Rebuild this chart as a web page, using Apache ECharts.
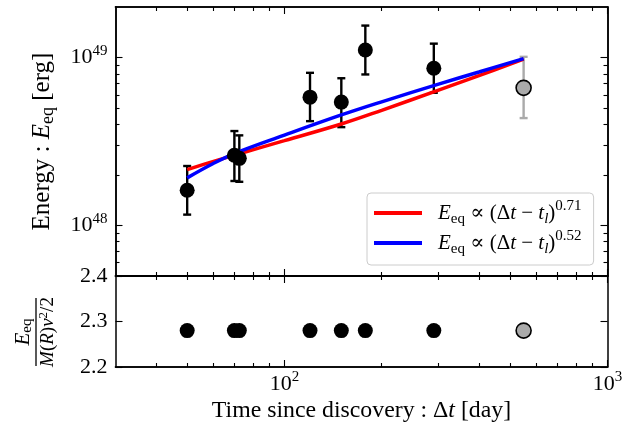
<!DOCTYPE html>
<html>
<head>
<meta charset="utf-8">
<script src="https://cdn.jsdelivr.net/npm/echarts@6/dist/echarts.min.js"></script>
<style>html,body{margin:0;padding:0;background:#fff;}#c{width:634px;height:435px;}</style>
</head>
<body>
<div id="c"></div>
<script>
// ---- data ----
const timeDays   = [50, 70, 72.5, 120, 150, 178, 290];
const energy     = [1.62e48, 2.62e48, 2.51e48, 5.81e48, 5.43e48, 1.11e49, 8.64e48];
const energyLow  = [1.16e48, 1.84e48, 1.82e48, 4.18e48, 3.85e48, 7.93e48, 6.17e48];
const energyHigh = [2.26e48, 3.65e48, 3.44e48, 8.11e48, 7.53e48, 1.55e49, 1.21e49];
const grayTime = [550];
const grayEnergy = [6.6e48];
const grayLow = [4.36e48];
const grayHigh = [1.01e49];
const ratio = [2.28, 2.28, 2.28, 2.28, 2.28, 2.28, 2.28];
const grayRatio = [2.28];

const fitTime   = [50, 60, 70, 100, 150, 200, 300, 400, 550];
const fitRed    = [2.15e48, 2.40e48, 2.62e48, 3.20e48, 4.02e48, 4.85e48, 6.40e48, 7.80e48, 9.80e48];
const fitBlue   = [1.92e48, 2.33e48, 2.68e48, 3.45e48, 4.55e48, 5.45e48, 6.95e48, 8.20e48, 9.86e48];

const xMajorTicks = [100, 1000];
const xMinorTicks = [40, 50, 60, 70, 80, 90, 200, 300, 400, 500, 600, 700, 800, 900];
const yMajorTicks = [1e48, 1e49];
const yMinorTicks = [6e47, 7e47, 8e47, 9e47, 2e48, 3e48, 4e48, 5e48, 6e48, 7e48, 8e48, 9e48];
const ratioTicks = [2.2, 2.3, 2.4];

// ---- styling ----
const SERIF = "'Liberation Serif', 'DejaVu Serif', serif";
function rich(F, L) {
  const s = Math.round(F * 0.7);
  return {
    n:   {fontFamily: SERIF, fontSize: F, lineHeight: L, color: '#000'},
    i:   {fontFamily: SERIF, fontSize: F, lineHeight: L, fontStyle: 'italic', color: '#000'},
    e0:  {fontFamily: SERIF, fontSize: F, lineHeight: L, fontStyle: 'italic', color: '#000', padding: [0, 0, 0, 11]},
    sub: {fontFamily: SERIF, fontSize: s, lineHeight: s, verticalAlign: 'bottom', color: '#000'},
    subi:{fontFamily: SERIF, fontSize: s, lineHeight: s, verticalAlign: 'bottom', fontStyle: 'italic', color: '#000'},
    sup: {fontFamily: SERIF, fontSize: s, lineHeight: s, verticalAlign: 'top', color: '#000'}
  };
}
const pair = (xs, ys) => xs.map((x, k) => [x, ys[k]]);

const GL = 115.5, GW = 492;
const frame = {show: true, onZero: false, lineStyle: {color: '#000', width: 1.5}};
function tickAx(grid, pos, type, min, max, vals, len, extra) {
  const ax = Object.assign({
    type: type, gridIndex: grid, position: pos, min: min, max: max,
    axisLine: frame, splitLine: {show: false},
    axisTick: {show: true, inside: true, length: len, customValues: vals, lineStyle: {color: '#000', width: 1.1}},
    axisLabel: {show: false}
  }, extra || {});
  if (type === 'log') ax.logBase = 10;
  return ax;
}
const powLabel = v => '{b|10}{s|' + Math.round(Math.log10(v)) + '}';
const powRich = {
  b: {fontFamily: SERIF, fontSize: 22, lineHeight: 28, color: '#000'},
  s: {fontFamily: SERIF, fontSize: 15, lineHeight: 15, verticalAlign: 'top', color: '#000'}
};

const xAxes = [
  tickAx(0, 'bottom', 'log', 30, 1000, xMajorTicks, 7),
  tickAx(0, 'bottom', 'log', 30, 1000, xMinorTicks, 4),
  tickAx(0, 'top', 'log', 30, 1000, xMajorTicks, 7),
  tickAx(0, 'top', 'log', 30, 1000, xMinorTicks, 4),
  tickAx(1, 'bottom', 'log', 30, 1000, xMajorTicks, 7, {
    axisLabel: {show: true, customValues: xMajorTicks, margin: 3, formatter: powLabel, rich: powRich},
    name: '{n|Time since discovery : Δ}{i|t}{n| [day]}', nameLocation: 'middle', nameGap: 30,
    nameTextStyle: {rich: rich(23.8, 28)}
  }),
  tickAx(1, 'bottom', 'log', 30, 1000, xMinorTicks, 4),
  tickAx(1, 'top', 'log', 30, 1000, xMajorTicks, 7),
  tickAx(1, 'top', 'log', 30, 1000, xMinorTicks, 4)
];
const yAxes = [
  tickAx(0, 'left', 'log', 5e47, 2e49, yMajorTicks, 7, {
    axisLabel: {show: true, customValues: yMajorTicks, margin: 8, formatter: powLabel, rich: powRich},
    name: '{n|Energy : }{i|E}{sub|eq}{n| [erg]}', nameLocation: 'middle', nameGap: 58, nameRotate: 90,
    nameTextStyle: {rich: rich(25, 30)}
  }),
  tickAx(0, 'left', 'log', 5e47, 2e49, yMinorTicks, 4),
  tickAx(0, 'right', 'log', 5e47, 2e49, yMajorTicks, 7),
  tickAx(0, 'right', 'log', 5e47, 2e49, yMinorTicks, 4),
  tickAx(1, 'left', 'value', 2.2, 2.4, ratioTicks, 7, {
    interval: 0.1,
    axisLabel: {show: true, customValues: ratioTicks, margin: 8, formatter: v => v.toFixed(1),
      fontFamily: SERIF, fontSize: 22, color: '#000'}
  }),
  tickAx(1, 'right', 'value', 2.2, 2.4, ratioTicks, 7, {interval: 0.1})
];

function errRender(color) {
  return function (params, api) {
    const x = api.value(0), lo = api.value(1), hi = api.value(2);
    const pLo = api.coord([x, lo]), pHi = api.coord([x, hi]);
    const cw = 4;
    const st = {stroke: color, lineWidth: 2.4};
    return {type: 'group', children: [
      {type: 'line', shape: {x1: pLo[0], y1: pLo[1], x2: pHi[0], y2: pHi[1]}, style: st},
      {type: 'line', shape: {x1: pLo[0] - cw, y1: pLo[1], x2: pLo[0] + cw, y2: pLo[1]}, style: st},
      {type: 'line', shape: {x1: pHi[0] - cw, y1: pHi[1], x2: pHi[0] + cw, y2: pHi[1]}, style: st}
    ]};
  };
}
const GRAY = '#aaaaaa';
const legendNames = {
  fit071: '{e0|E}{sub|eq}{n| ∝ (Δ}{i|t}{n| − }{i|t}{subi|l}{n|)}{sup|0.71}',
  fit052: '{e0|E}{sub|eq}{n| ∝ (Δ}{i|t}{n| − }{i|t}{subi|l}{n|)}{sup|0.52}'
};

const option = {
  animation: false,
  backgroundColor: '#fff',
  grid: [
    {left: GL, top: 7, width: GW, height: 269, outerBoundsMode: 'none'},
    {left: GL, top: 276, width: GW, height: 91, outerBoundsMode: 'none'}
  ],
  xAxis: xAxes,
  yAxis: yAxes,
  legend: {
    left: 367, top: 193, orient: 'vertical', padding: [6, 12, 8, 7], itemGap: 2,
    itemWidth: 48, itemHeight: 4, icon: 'rect', selectedMode: false,
    backgroundColor: 'rgba(255,255,255,0.8)', borderColor: '#cccccc', borderWidth: 1, borderRadius: 4,
    data: ['fit071', 'fit052'],
    formatter: name => legendNames[name],
    textStyle: {rich: rich(21, 28)}
  },
  graphic: [{
    type: 'group', x: 36, y: 332, rotation: Math.PI / 2,
    children: [
      {type: 'line', shape: {x1: -34, y1: 0, x2: 34, y2: 0}, style: {stroke: '#000', lineWidth: 1.3}},
      {type: 'text', x: 0, y: -1, style: {text: '{i|E}{sub|eq}', rich: rich(21, 24), align: 'center', verticalAlign: 'bottom'}},
      {type: 'text', x: 0, y: 1, style: {text: '{i|M}{n|(}{i|R}{n|)}{i|v}{sup|2}{n|/2}', rich: rich(19, 22), align: 'center', verticalAlign: 'top'}}
    ]
  }],
  series: [
    {type: 'custom', name: 'errBlack', xAxisIndex: 0, yAxisIndex: 0, z: 1,
     renderItem: errRender('#000'), data: timeDays.map((t, k) => [t, energyLow[k], energyHigh[k]])},
    {type: 'custom', name: 'errGray', xAxisIndex: 0, yAxisIndex: 0, z: 1,
     renderItem: errRender(GRAY), data: grayTime.map((t, k) => [t, grayLow[k], grayHigh[k]])},
    {type: 'line', name: 'fit071', xAxisIndex: 0, yAxisIndex: 0, z: 2, smooth: 0.4,
     showSymbol: false, symbol: 'none', color: '#ff0000', lineStyle: {color: '#ff0000', width: 3.5},
     data: pair(fitTime, fitRed)},
    {type: 'line', name: 'fit052', xAxisIndex: 0, yAxisIndex: 0, z: 2, smooth: 0.4,
     showSymbol: false, symbol: 'none', color: '#0000ff', lineStyle: {color: '#0000ff', width: 3.5},
     data: pair(fitTime, fitBlue)},
    {type: 'scatter', name: 'pts', xAxisIndex: 0, yAxisIndex: 0, z: 3, symbolSize: 15,
     itemStyle: {color: '#000', opacity: 1}, data: pair(timeDays, energy)},
    {type: 'scatter', name: 'ptsGray', xAxisIndex: 0, yAxisIndex: 0, z: 3, symbolSize: 15,
     itemStyle: {color: GRAY, borderColor: '#000', borderWidth: 1.6, opacity: 1}, data: pair(grayTime, grayEnergy)},
    {type: 'scatter', name: 'ratio', xAxisIndex: 4, yAxisIndex: 4, z: 3, symbolSize: 15,
     itemStyle: {color: '#000', opacity: 1}, data: pair(timeDays, ratio)},
    {type: 'scatter', name: 'ratioGray', xAxisIndex: 4, yAxisIndex: 4, z: 3, symbolSize: 15,
     itemStyle: {color: GRAY, borderColor: '#000', borderWidth: 1.6, opacity: 1}, data: pair(grayTime, grayRatio)}
  ]
};
const chart = echarts.init(document.getElementById('c'), null, {renderer: 'canvas'});
chart.setOption(option);
</script>
</body>
</html>
